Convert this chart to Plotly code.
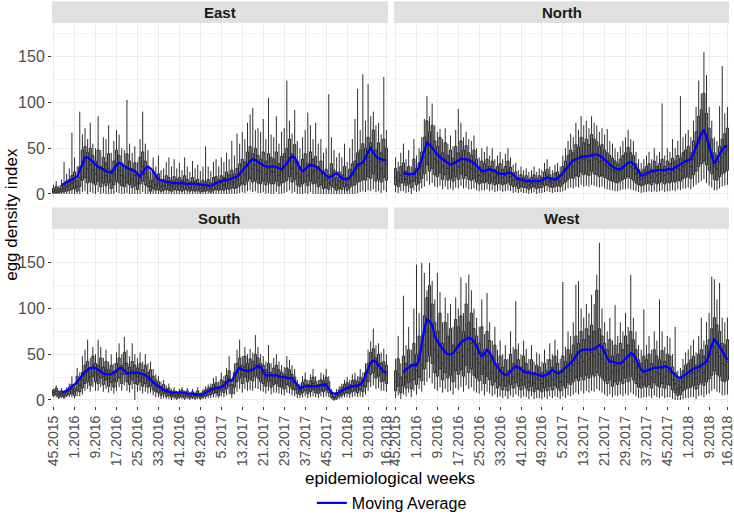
import plotly.graph_objects as go
from plotly.subplots import make_subplots

# epidemiological weeks 45.2015 .. 16.2018 (52-week years)
weeks = ([f"{w}.2015" for w in range(45, 53)] + [f"{w}.2016" for w in range(1, 53)]
         + [f"{w}.2017" for w in range(1, 53)] + [f"{w}.2018" for w in range(1, 17)])
regions = ["East", "North", "South", "West"]

# ---- East ----
east_ma = [None, None, None, 10, 11, 13, 14, 16, 17, 19, 26, 34, 40, 40, 38, 35,
           32, 30, 28, 27, 25, 24, 23, 27, 32, 34, 32, 30, 29, 27, 26, 25,
           22, 19, 23, 28, 30, 28, 25, 20, 16, 15, 14, 13, 13, 12, 12, 12,
           12, 12, 11, 11, 11, 11, 11, 11, 10, 10, 10, 9, 9, 10, 12, 13,
           14, 15, 15, 16, 17, 18, 19, 22, 26, 29, 32, 36, 38, 37, 35, 33,
           31, 30, 30, 30, 30, 29, 28, 27, 30, 34, 38, 41, 40, 34, 28, 25,
           27, 30, 32, 31, 30, 28, 26, 23, 20, 18, 19, 21, 23, 20, 17, 16,
           16, 18, 22, 27, 32, 33, 34, 40, 46, 50, 46, 41, 39, 38, 37, 37]
east_med = [3, 4, 3, 5, 6, 8, 10, 12, 14, 8, 18, 30, 35, 28, 32, 26,
            22, 30, 18, 25, 20, 28, 15, 22, 30, 26, 20, 18, 28, 22, 16, 20,
            12, 25, 30, 22, 18, 8, 14, 10, 12, 8, 9, 12, 10, 8, 11, 9,
            10, 8, 12, 9, 7, 10, 8, 9, 6, 8, 7, 9, 6, 10, 11, 9,
            12, 10, 14, 12, 15, 13, 16, 20, 24, 22, 30, 35, 28, 32, 26, 24,
            30, 22, 28, 25, 24, 30, 20, 26, 28, 32, 40, 28, 35, 22, 18, 24,
            28, 20, 30, 24, 26, 18, 22, 14, 16, 12, 20, 15, 10, 14, 12, 18,
            10, 16, 20, 22, 28, 30, 35, 32, 40, 36, 45, 30, 35, 28, 38, 32]
east_q1 = [1, 1, 1, 2, 2, 3, 4, 5, 6, 3, 8, 15, 18, 12, 14, 12,
           10, 14, 8, 12, 9, 12, 6, 10, 14, 12, 9, 8, 12, 10, 7, 9,
           5, 11, 14, 10, 8, 3, 6, 4, 5, 3, 4, 5, 4, 3, 5, 4,
           4, 3, 5, 4, 3, 4, 3, 4, 2, 3, 3, 4, 2, 4, 5, 4,
           5, 4, 6, 5, 7, 6, 7, 9, 11, 10, 14, 17, 13, 15, 12, 11,
           14, 10, 13, 11, 11, 14, 9, 12, 13, 15, 19, 13, 16, 10, 8, 11,
           13, 9, 14, 11, 12, 8, 10, 6, 7, 5, 9, 7, 4, 6, 5, 8,
           4, 7, 9, 10, 13, 14, 16, 15, 19, 17, 22, 14, 16, 13, 18, 15]
east_q3 = [6, 8, 6, 9, 10, 14, 16, 20, 24, 15, 30, 48, 52, 45, 50, 42,
           36, 48, 30, 40, 34, 44, 26, 36, 48, 42, 34, 30, 44, 36, 28, 34,
           22, 40, 46, 36, 30, 15, 24, 18, 22, 15, 16, 20, 18, 15, 19, 16,
           18, 15, 20, 16, 13, 18, 14, 16, 12, 15, 13, 16, 12, 18, 19, 16,
           20, 18, 24, 21, 26, 22, 28, 33, 38, 35, 46, 52, 44, 50, 42, 38,
           46, 36, 44, 40, 38, 46, 33, 41, 44, 50, 60, 44, 54, 36, 30, 38,
           44, 33, 46, 38, 41, 30, 36, 24, 27, 21, 33, 26, 18, 24, 21, 30,
           18, 27, 33, 36, 45, 48, 55, 50, 62, 56, 70, 48, 56, 45, 60, 50]
east_hi = [10, 14, 9, 16, 35, 22, 28, 67, 40, 30, 90, 65, 72, 60, 78, 55,
           50, 85, 48, 62, 60, 75, 45, 58, 70, 65, 50, 48, 103, 55, 45, 52,
           35, 60, 90, 55, 48, 25, 40, 30, 42, 26, 28, 35, 40, 30, 38, 28,
           34, 26, 40, 30, 24, 36, 28, 32, 25, 30, 52, 30, 25, 35, 38, 30,
           40, 35, 45, 38, 58, 42, 66, 55, 68, 60, 78, 87, 94, 70, 72, 68,
           82, 60, 105, 65, 62, 85, 55, 68, 72, 124, 80, 66, 92, 58, 50, 62,
           70, 89, 75, 60, 78, 55, 60, 45, 50, 109, 62, 48, 40, 45, 40, 55,
           35, 50, 60, 82, 115, 70, 131, 80, 120, 85, 90, 75, 78, 65, 128, 70]
east_lo = [0, 0, 0, 0, 0, 0, 0, 0, 0, 0, 0, 2, 3, 0, 2, 1,
           0, 2, 0, 1, 0, 0, 0, 0, 2, 1, 0, 0, 1, 0, 0, 0,
           0, 0, 2, 0, 0, 0, 0, 0, 0, 0, 0, 0, 0, 0, 0, 0,
           0, 0, 0, 0, 0, 0, 0, 0, 0, 0, 0, 0, 0, 0, 0, 0,
           0, 0, 0, 0, 0, 0, 0, 1, 2, 1, 3, 4, 2, 3, 1, 1,
           2, 0, 1, 0, 0, 2, 0, 0, 1, 2, 4, 1, 2, 0, 0, 0,
           1, 0, 2, 0, 0, 0, 0, 0, 0, 0, 0, 0, 0, 0, 0, 0,
           0, 0, 0, 0, 1, 2, 3, 2, 4, 3, 5, 2, 3, 1, 4, 2]

# ---- North ----
north_ma = [None, None, None, 23, 22, 22, 22, 22, 25, 29, 38, 48, 56, 54, 50, 47,
            43, 40, 38, 36, 34, 32, 33, 35, 37, 38, 38, 38, 37, 35, 34, 31,
            28, 25, 25, 26, 27, 26, 25, 23, 22, 22, 22, 23, 23, 21, 18, 16,
            16, 15, 14, 14, 14, 14, 14, 14, 15, 17, 18, 17, 16, 16, 17, 20,
            24, 27, 30, 34, 37, 38, 39, 40, 41, 41, 42, 42, 43, 43, 42, 40,
            38, 35, 32, 30, 28, 27, 27, 29, 32, 34, 35, 33, 29, 24, 20, 21,
            23, 24, 25, 25, 26, 26, 26, 26, 27, 27, 27, 29, 31, 33, 34, 36,
            37, 38, 44, 52, 60, 66, 70, 63, 52, 42, 33, 38, 44, 48, 52, 52]
north_med = [18, 15, 20, 22, 16, 20, 14, 25, 18, 22, 30, 40, 55, 45, 50, 38,
             35, 42, 30, 38, 28, 32, 26, 35, 30, 40, 32, 36, 30, 28, 32, 25,
             20, 24, 22, 26, 20, 24, 18, 20, 22, 18, 20, 24, 19, 15, 16, 12,
             14, 12, 13, 10, 12, 14, 11, 13, 12, 16, 18, 14, 12, 15, 16, 14,
             20, 24, 28, 32, 30, 36, 34, 42, 38, 40, 36, 44, 40, 38, 35, 36,
             32, 30, 28, 26, 24, 22, 25, 28, 30, 34, 30, 28, 22, 18, 16, 18,
             20, 22, 18, 24, 20, 22, 25, 20, 24, 22, 26, 24, 28, 26, 30, 32,
             34, 30, 38, 45, 55, 60, 65, 58, 48, 40, 30, 28, 35, 40, 44, 48]
north_q1 = [10, 8, 12, 12, 9, 11, 7, 14, 10, 12, 17, 22, 32, 25, 28, 21,
            19, 23, 16, 21, 15, 17, 14, 19, 16, 22, 17, 20, 16, 15, 17, 13,
            11, 13, 12, 14, 11, 13, 10, 11, 12, 10, 11, 13, 10, 8, 9, 6,
            8, 7, 7, 5, 7, 8, 6, 7, 7, 9, 10, 8, 7, 8, 9, 8,
            11, 13, 16, 18, 17, 20, 19, 24, 21, 22, 20, 25, 22, 21, 19, 20,
            18, 17, 15, 14, 13, 12, 14, 16, 17, 19, 17, 15, 12, 10, 9, 10,
            11, 12, 10, 13, 11, 12, 14, 11, 13, 12, 14, 13, 15, 14, 17, 18,
            19, 17, 21, 25, 30, 33, 36, 32, 26, 22, 16, 15, 19, 22, 24, 26]
north_q3 = [28, 24, 30, 34, 25, 30, 22, 38, 28, 34, 46, 62, 80, 68, 75, 58,
            52, 62, 45, 56, 42, 48, 39, 52, 45, 58, 48, 53, 45, 42, 48, 38,
            30, 36, 33, 38, 30, 36, 27, 30, 33, 27, 30, 36, 29, 23, 24, 18,
            21, 18, 20, 16, 18, 21, 17, 20, 18, 24, 27, 21, 18, 23, 24, 21,
            30, 36, 42, 48, 45, 54, 51, 62, 56, 60, 54, 65, 60, 57, 52, 54,
            48, 45, 42, 39, 36, 33, 38, 42, 45, 51, 45, 42, 33, 27, 24, 27,
            30, 33, 27, 36, 30, 33, 38, 30, 36, 33, 39, 36, 42, 39, 45, 48,
            52, 45, 58, 68, 85, 92, 110, 88, 72, 60, 45, 42, 52, 60, 66, 72]
north_hi = [40, 35, 45, 55, 38, 48, 30, 60, 42, 50, 62, 82, 107, 85, 99, 75,
            68, 71, 60, 72, 55, 64, 52, 70, 93, 78, 62, 68, 60, 58, 64, 50,
            40, 50, 46, 52, 42, 50, 38, 42, 46, 38, 44, 50, 40, 32, 34, 26,
            30, 26, 28, 24, 26, 30, 24, 28, 26, 34, 38, 30, 26, 32, 34, 30,
            42, 50, 58, 66, 62, 78, 70, 85, 75, 80, 72, 85, 78, 75, 68, 72,
            65, 71, 58, 55, 50, 46, 52, 58, 62, 70, 60, 58, 46, 38, 34, 38,
            42, 46, 38, 50, 42, 46, 99, 42, 50, 46, 60, 50, 58, 107, 62, 66,
            70, 62, 80, 95, 124, 110, 155, 130, 95, 80, 62, 58, 96, 140, 88, 95]
north_lo = [2, 1, 3, 3, 1, 2, 0, 4, 2, 3, 6, 8, 14, 10, 12, 8,
            7, 9, 5, 8, 5, 6, 4, 7, 6, 9, 6, 7, 5, 5, 6, 4,
            3, 4, 4, 5, 3, 4, 2, 3, 4, 2, 3, 4, 3, 1, 2, 1,
            2, 1, 1, 0, 1, 2, 0, 1, 1, 2, 3, 2, 1, 2, 2, 2,
            3, 4, 6, 7, 6, 8, 7, 10, 8, 9, 8, 10, 9, 8, 7, 8,
            6, 5, 4, 4, 3, 3, 4, 5, 5, 6, 5, 4, 3, 2, 1, 2,
            2, 3, 2, 3, 2, 3, 4, 2, 3, 3, 4, 3, 5, 4, 6, 6,
            7, 5, 8, 10, 12, 14, 16, 12, 9, 7, 4, 4, 6, 8, 9, 10]

# ---- South ----
south_ma = [None, None, None, 8, 9, 10, 12, 14, 17, 20, 23, 27, 31, 33, 35, 35,
            35, 33, 31, 29, 28, 28, 28, 30, 32, 34, 35, 32, 29, 29, 30, 30,
            30, 29, 28, 27, 25, 22, 20, 17, 15, 13, 11, 10, 9, 8, 8, 8,
            8, 8, 8, 7, 7, 7, 6, 6, 6, 6, 8, 10, 11, 12, 13, 13,
            14, 16, 19, 22, 21, 26, 32, 35, 33, 32, 32, 32, 33, 35, 37, 36,
            31, 27, 27, 27, 27, 27, 26, 25, 25, 24, 24, 24, 20, 16, 13, 14,
            15, 15, 15, 15, 15, 15, 16, 17, 16, 12, 8, 7, 7, 8, 10, 12,
            13, 14, 15, 15, 16, 17, 20, 27, 35, 41, 43, 42, 38, 34, 31, 30]
south_med = [8, 10, 6, 7, 5, 8, 10, 12, 9, 18, 16, 22, 28, 30, 25, 38,
             30, 28, 35, 26, 32, 24, 28, 22, 30, 35, 28, 40, 30, 26, 32, 28,
             26, 30, 24, 28, 22, 24, 18, 15, 14, 10, 12, 8, 9, 6, 7, 5,
             6, 8, 5, 7, 4, 6, 5, 7, 4, 6, 8, 9, 10, 12, 14, 10,
             16, 14, 20, 24, 12, 22, 30, 35, 28, 36, 30, 34, 32, 38, 35, 30,
             28, 24, 30, 22, 26, 28, 24, 22, 20, 26, 24, 20, 18, 12, 10, 14,
             16, 12, 15, 18, 14, 12, 16, 15, 18, 14, 6, 2, 5, 8, 10, 12,
             14, 12, 15, 16, 14, 18, 16, 22, 30, 40, 42, 35, 38, 30, 32, 28]
south_q1 = [5, 6, 3, 4, 3, 5, 6, 7, 5, 10, 9, 13, 18, 20, 16, 26,
            20, 18, 24, 17, 22, 15, 19, 14, 20, 24, 18, 28, 20, 17, 22, 18,
            17, 20, 15, 18, 14, 15, 11, 9, 8, 5, 7, 4, 5, 3, 4, 2,
            3, 4, 2, 4, 2, 3, 2, 4, 2, 3, 4, 5, 6, 7, 8, 5,
            10, 8, 12, 15, 7, 14, 20, 24, 18, 25, 20, 23, 21, 26, 24, 20,
            18, 15, 20, 14, 17, 18, 15, 14, 12, 17, 15, 12, 11, 7, 6, 8,
            10, 7, 9, 11, 8, 7, 10, 9, 11, 8, 3, 0, 2, 4, 5, 7,
            8, 7, 9, 10, 8, 11, 9, 14, 20, 28, 30, 24, 26, 20, 21, 18]
south_q3 = [11, 13, 9, 10, 8, 11, 14, 17, 13, 26, 23, 30, 38, 42, 35, 48,
            40, 38, 46, 36, 42, 33, 38, 31, 40, 46, 38, 52, 40, 36, 42, 38,
            35, 40, 33, 38, 30, 33, 26, 22, 20, 15, 17, 12, 13, 9, 10, 8,
            9, 11, 8, 10, 6, 9, 7, 10, 6, 9, 11, 13, 14, 17, 19, 15,
            22, 20, 27, 32, 17, 30, 40, 46, 38, 48, 40, 45, 42, 50, 46, 40,
            38, 33, 40, 30, 35, 38, 33, 30, 28, 35, 33, 28, 25, 17, 14, 19,
            22, 17, 21, 25, 20, 17, 22, 21, 25, 20, 9, 4, 8, 11, 14, 17,
            19, 17, 21, 22, 20, 25, 22, 30, 40, 52, 56, 46, 50, 40, 42, 38]
south_hi = [12, 16, 11, 13, 10, 14, 18, 26, 17, 35, 30, 48, 55, 66, 46, 58,
            50, 66, 58, 46, 55, 42, 50, 40, 52, 62, 50, 69, 55, 48, 62, 50,
            46, 52, 42, 50, 40, 42, 34, 28, 26, 20, 22, 16, 18, 12, 14, 10,
            12, 14, 10, 13, 8, 12, 9, 14, 8, 12, 15, 17, 18, 24, 26, 20,
            30, 26, 35, 48, 22, 40, 55, 66, 48, 58, 50, 56, 52, 71, 58, 50,
            48, 42, 60, 40, 46, 50, 42, 38, 36, 48, 44, 38, 34, 22, 18, 26,
            30, 22, 28, 34, 26, 22, 30, 28, 34, 26, 12, 6, 12, 15, 18, 22,
            25, 22, 28, 30, 26, 34, 30, 40, 55, 64, 78, 60, 62, 52, 56, 50]
south_lo = [3, 3, 1, 2, 1, 3, 3, 3, 2, 4, 4, 6, 10, 12, 9, 14,
            10, 10, 14, 9, 12, 8, 10, 7, 10, 14, 10, 16, 10, 8, 12, 0,
            9, 10, 7, 9, 7, 8, 5, 3, 3, 1, 2, 1, 1, 0, 1, 0,
            1, 1, 0, 1, 0, 1, 0, 1, 0, 1, 1, 2, 2, 3, 3, 2,
            4, 3, 5, 6, 2, 6, 9, 12, 8, 12, 10, 11, 10, 13, 12, 10,
            9, 7, 10, 6, 8, 8, 7, 6, 5, 8, 7, 5, 4, 2, 2, 3,
            4, 2, 3, 4, 3, 2, 4, 3, 4, 3, 1, 0, 0, 1, 2, 3,
            3, 2, 3, 4, 3, 4, 3, 6, 10, 14, 16, 12, 13, 10, 10, 9]

# ---- West ----
west_ma = [None, None, None, 31, 33, 36, 38, 38, 38, 44, 59, 78, 88, 86, 82, 70,
           64, 60, 56, 52, 50, 50, 51, 55, 60, 63, 65, 67, 68, 67, 64, 59,
           52, 48, 50, 55, 52, 46, 40, 36, 32, 29, 27, 28, 31, 35, 37, 35,
           33, 31, 30, 30, 29, 29, 28, 27, 26, 27, 28, 30, 33, 31, 29, 30,
           33, 36, 38, 40, 44, 48, 52, 54, 55, 55, 55, 55, 56, 58, 60, 58,
           52, 46, 42, 42, 41, 40, 40, 42, 45, 48, 51, 50, 45, 38, 33, 31,
           32, 33, 34, 35, 35, 36, 36, 37, 36, 34, 30, 27, 25, 24, 26, 28,
           30, 32, 34, 35, 36, 38, 40, 42, 50, 60, 66, 63, 58, 54, 48, 44]
west_med = [20, 28, 15, 30, 25, 35, 22, 40, 32, 45, 38, 60, 75, 85, 70, 55,
            48, 62, 40, 55, 45, 50, 38, 58, 52, 60, 48, 70, 55, 62, 50, 45,
            40, 52, 35, 48, 42, 30, 38, 25, 30, 22, 28, 20, 32, 25, 35, 28,
            22, 30, 25, 20, 28, 18, 24, 22, 18, 25, 20, 28, 22, 30, 25, 20,
            30, 26, 35, 32, 38, 45, 40, 48, 42, 50, 45, 52, 48, 55, 50, 45,
            40, 35, 42, 30, 38, 32, 40, 35, 45, 38, 48, 42, 35, 28, 25, 30,
            28, 32, 25, 35, 30, 28, 34, 26, 32, 30, 22, 18, 12, 14, 20, 24,
            26, 28, 30, 24, 32, 35, 30, 38, 42, 50, 58, 52, 48, 40, 38, 42]
west_q1 = [10, 15, 8, 16, 13, 19, 12, 22, 17, 25, 21, 34, 42, 48, 40, 30,
           26, 34, 22, 30, 24, 27, 20, 32, 28, 33, 26, 38, 30, 34, 27, 24,
           21, 28, 18, 26, 22, 16, 20, 13, 16, 11, 15, 10, 17, 13, 19, 15,
           11, 16, 13, 10, 15, 9, 12, 11, 9, 13, 10, 15, 11, 16, 13, 10,
           16, 13, 19, 17, 20, 24, 21, 26, 22, 27, 24, 28, 26, 30, 27, 24,
           21, 18, 22, 15, 20, 17, 21, 18, 24, 20, 26, 22, 18, 14, 13, 16,
           14, 17, 13, 19, 16, 14, 18, 13, 17, 16, 11, 8, 5, 6, 10, 12,
           13, 14, 16, 12, 17, 19, 16, 20, 23, 27, 32, 28, 26, 21, 20, 22]
west_q3 = [32, 45, 25, 48, 40, 55, 36, 62, 50, 70, 60, 92, 112, 125, 105, 85,
           75, 95, 62, 85, 70, 78, 60, 88, 80, 92, 75, 105, 85, 95, 78, 70,
           62, 80, 55, 75, 65, 48, 60, 40, 48, 36, 44, 32, 50, 40, 55, 44,
           36, 48, 40, 32, 44, 30, 38, 36, 30, 40, 32, 44, 36, 48, 40, 32,
           48, 42, 55, 50, 60, 70, 62, 75, 66, 78, 70, 82, 75, 120, 78, 70,
           62, 55, 66, 48, 60, 50, 62, 55, 70, 60, 75, 66, 55, 44, 40, 48,
           44, 50, 40, 55, 48, 44, 54, 42, 50, 48, 36, 30, 22, 24, 32, 38,
           40, 44, 48, 38, 50, 55, 48, 60, 66, 78, 90, 82, 75, 62, 60, 66]
west_hi = [45, 70, 40, 114, 60, 80, 55, 100, 148, 95, 150, 139, 120, 150, 130, 110,
           139, 118, 85, 112, 95, 105, 80, 112, 100, 134, 95, 128, 137, 120, 100, 90,
           80, 110, 72, 117, 85, 65, 80, 55, 65, 50, 60, 45, 75, 58, 108, 62,
           50, 65, 56, 45, 60, 42, 52, 50, 42, 55, 45, 62, 50, 66, 55, 45,
           129, 58, 75, 70, 85, 126, 130, 100, 90, 105, 95, 115, 105, 137, 172, 100,
           85, 75, 90, 65, 104, 70, 85, 75, 95, 80, 137, 90, 75, 60, 55, 99,
           60, 70, 55, 75, 65, 110, 75, 58, 70, 68, 50, 80, 32, 35, 45, 52,
           55, 60, 66, 52, 70, 90, 65, 85, 95, 135, 132, 110, 128, 90, 85, 90]
west_lo = [2, 5, 1, 6, 4, 8, 3, 10, 6, 12, 9, 16, 20, 24, 18, 12,
           10, 14, 8, 12, 9, 10, 6, 13, 11, 14, 9, 16, 12, 14, 10, 8,
           7, 10, 5, 9, 7, 4, 6, 3, 4, 2, 4, 1, 5, 3, 6, 4,
           2, 4, 3, 1, 4, 1, 2, 2, 1, 3, 1, 4, 2, 4, 3, 1,
           4, 2, 5, 4, 6, 8, 6, 10, 7, 10, 8, 10, 9, 12, 10, 8,
           6, 4, 6, 3, 5, 4, 6, 4, 7, 5, 8, 6, 4, 2, 2, 3,
           3, 4, 2, 5, 3, 2, 4, 2, 3, 3, 1, 0, 0, 0, 1, 2,
           2, 3, 3, 1, 4, 5, 3, 6, 7, 10, 12, 9, 8, 5, 5, 6]

data = {
    "East": (east_ma, east_q1, east_med, east_q3, east_lo, east_hi),
    "North": (north_ma, north_q1, north_med, north_q3, north_lo, north_hi),
    "South": (south_ma, south_q1, south_med, south_q3, south_lo, south_hi),
    "West": (west_ma, west_q1, west_med, west_q3, west_lo, west_hi),
}

FONT = "Liberation Sans, Arial, sans-serif"
pos = list(range(len(weeks)))
tick_idx = list(range(0, len(weeks), 8)) + [len(weeks) - 1]

fig = make_subplots(rows=2, cols=2, horizontal_spacing=0.009, vertical_spacing=0.0757)

for k, reg in enumerate(regions):
    row, col = k // 2 + 1, k % 2 + 1
    ma, q1, med, q3, lo, hi = data[reg]
    fig.add_trace(go.Box(x=pos, q1=q1, median=med, q3=q3, lowerfence=lo, upperfence=hi,
                         width=0.8, whiskerwidth=0, fillcolor="#777777",
                         line=dict(color="#2e2e2e", width=1),
                         showlegend=False, hoverinfo="skip"), row=row, col=col)
    fig.add_trace(go.Scatter(x=pos, y=ma, mode="lines", name="Moving Average",
                             line=dict(color="#0000ff", width=2.3),
                             legendgroup="ma", showlegend=(k == 0)), row=row, col=col)

fig.update_xaxes(range=[-0.6, len(weeks) - 0.4], tickmode="array", tickvals=tick_idx,
                 ticktext=[weeks[i] for i in tick_idx], tickangle=-90,
                 ticklabeloverflow="allow",
                 showgrid=True, gridcolor="#ebebeb", gridwidth=1, zeroline=False,
                 showline=False, ticks="outside", ticklen=3, tickcolor="#333333",
                 tickfont=dict(family=FONT, size=14, color="#4d4d4d"))
fig.update_xaxes(showticklabels=False, ticks="", row=1)
fig.update_yaxes(range=[-6.6, 187], tickmode="array", tickvals=[0, 50, 100, 150],
                 showgrid=True, gridcolor="#ebebeb", gridwidth=1, zeroline=False,
                 showline=False, ticks="outside", ticklen=3, tickcolor="#333333",
                 tickfont=dict(family=FONT, size=16, color="#4d4d4d"),
                 minor=dict(tickvals=[25, 75, 125, 175], showgrid=True,
                            gridcolor="#f4f4f4", gridwidth=0.6, ticks=""))
fig.update_yaxes(showticklabels=False, ticks="", col=2)

# panel geometry
xdom = [[0, 0.4963], [0.5052, 1]]
ydom = [[0.5379, 1], [0, 0.4621]]
strip_h = 0.0565
n = 1
for r in range(2):
    for c in range(2):
        sfx = "" if n == 1 else str(n)
        fig.layout["xaxis" + sfx].domain = xdom[c]
        fig.layout["yaxis" + sfx].domain = ydom[r]
        fig.add_shape(type="rect", xref="paper", yref="paper",
                      x0=xdom[c][0], x1=xdom[c][1], y0=ydom[r][1], y1=ydom[r][1] + strip_h,
                      fillcolor="#e0e0e0", line=dict(width=0), layer="below")
        fig.add_annotation(text="<b>%s</b>" % regions[n - 1], xref="paper", yref="paper",
                           x=(xdom[c][0] + xdom[c][1]) / 2, y=ydom[r][1] + strip_h / 2,
                           showarrow=False, font=dict(family=FONT, size=15, color="#1a1a1a"),
                           xanchor="center", yanchor="middle")
        n += 1

fig.add_annotation(text="epidemiological weeks", xref="paper", yref="paper", x=0.4993, y=-0.19,
                   showarrow=False, font=dict(family=FONT, size=17, color="#000000"),
                   xanchor="center", yanchor="middle")
fig.add_annotation(text="egg density index", xref="paper", yref="paper", x=-0.061, y=0.501,
                   textangle=-90, showarrow=False, font=dict(family=FONT, size=17, color="#000000"),
                   xanchor="center", yanchor="middle")

fig.update_layout(
    width=734, height=515,
    margin=dict(l=52, r=5, t=23, b=109, autoexpand=False),
    paper_bgcolor="white", plot_bgcolor="white",
    font=dict(family=FONT),
    showlegend=True,
    legend=dict(orientation="h", x=0.502, xanchor="center", y=-0.253, yanchor="middle",
                font=dict(family=FONT, size=16, color="#000000"), itemwidth=30,
                bgcolor="rgba(0,0,0,0)"),
)

# drop the page's default body margin so the figure sits at the window corner
fig.write_html("out.html", config={"displayModeBar": False},
               post_script="document.body.style.margin='0';")
